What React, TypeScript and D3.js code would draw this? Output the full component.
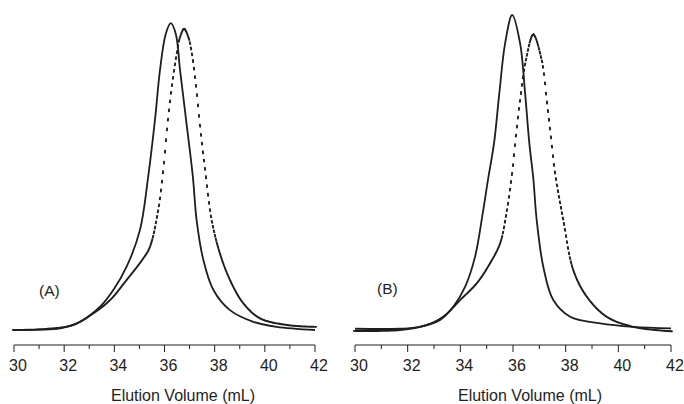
import React from "react";
import * as d3 from "d3";

// ---- Data (elution volume in mL, normalized detector signal) ----
const xTicks = [30, 32, 34, 36, 38, 40, 42];
const xMinorTicks = [31, 33, 35, 37, 39, 41];
const axisTitle = "Elution Volume (mL)";
const panelLabels = ["(A)", "(B)"];

const aSolidVol = [30, 31.0, 31.83, 32.63, 33.43, 33.96, 34.49, 35.02, 35.35, 35.62, 35.82, 36.05, 36.25, 36.45, 36.62, 36.86, 37.13, 37.28, 37.55, 37.95, 38.61, 39.54, 40.47, 42];
const aSolidSig = [0, 0.001, 0.005, 0.026, 0.074, 0.127, 0.201, 0.317, 0.487, 0.667, 0.825, 0.94, 0.974, 0.94, 0.825, 0.667, 0.487, 0.349, 0.222, 0.127, 0.063, 0.026, 0.01, 0.0];

const aDotVol = [30, 31.2, 32.36, 33.16, 33.83, 34.49, 35.16, 35.42, 35.75, 35.95, 36.11, 36.29, 36.49, 36.62, 36.78, 36.95, 37.09, 37.26, 37.42, 37.62, 37.88, 38.21, 38.61, 39.14, 39.81, 40.87, 42];
const aDotSig = [0, 0.003, 0.016, 0.053, 0.095, 0.159, 0.228, 0.264, 0.381, 0.508, 0.645, 0.772, 0.878, 0.93, 0.955, 0.93, 0.878, 0.772, 0.645, 0.508, 0.349, 0.243, 0.159, 0.085, 0.037, 0.016, 0.01];

const bSolidVol = [30, 31.71, 32.47, 33.23, 33.73, 34.18, 34.56, 34.85, 35.06, 35.28, 35.48, 35.7, 35.97, 36.27, 36.46, 36.62, 36.77, 36.9, 37.15, 37.53, 38.17, 39.31, 40.57, 42];
const bSolidSig = [0.004, 0.004, 0.01, 0.032, 0.074, 0.137, 0.233, 0.37, 0.482, 0.593, 0.751, 0.91, 1.0, 0.91, 0.751, 0.593, 0.482, 0.349, 0.201, 0.095, 0.042, 0.021, 0.01, 0.005];

const bDotVol = [30, 31.71, 32.72, 33.35, 33.99, 34.62, 35.13, 35.51, 35.73, 35.95, 36.11, 36.27, 36.49, 36.77, 37.09, 37.28, 37.44, 37.6, 37.91, 38.29, 38.8, 39.56, 40.57, 42];
const bDotSig = [-0.003, 0.0, 0.016, 0.042, 0.095, 0.148, 0.212, 0.275, 0.36, 0.487, 0.614, 0.73, 0.857, 0.937, 0.857, 0.73, 0.614, 0.497, 0.349, 0.19, 0.106, 0.042, 0.01, -0.004];

type Pt = [number, number];

const zip = (v: number[], s: number[]): Pt[] => v.map((d, i) => [d, s[i]]);
const curve = d3.curveCatmullRom.alpha(0.5);

// Flatten a d3 curve into a dense polyline (pixel coords)
function flatten(pts: Pt[], x: d3.ScaleLinear<number, number>, y: d3.ScaleLinear<number, number>): Pt[] {
  const out: Pt[] = [];
  let cx = 0, cy = 0;
  const ctx: any = {
    moveTo(a: number, b: number) { cx = a; cy = b; out.push([a, b]); },
    lineTo(a: number, b: number) { cx = a; cy = b; out.push([a, b]); },
    bezierCurveTo(x1: number, y1: number, x2: number, y2: number, x3: number, y3: number) {
      const n = 40;
      for (let i = 1; i <= n; i++) {
        const t = i / n, u = 1 - t;
        const px = u * u * u * cx + 3 * u * u * t * x1 + 3 * u * t * t * x2 + t * t * t * x3;
        const py = u * u * u * cy + 3 * u * u * t * y1 + 3 * u * t * t * y2 + t * t * t * y3;
        out.push([px, py]);
      }
      cx = x3; cy = y3;
    },
    closePath() {},
  };
  d3.line<Pt>().x(d => x(d[0])).y(d => y(d[1])).curve(curve).context(ctx)(pts);
  return out;
}

function dottedPath(pts: Pt[], x: d3.ScaleLinear<number, number>, y: d3.ScaleLinear<number, number>): string {
  const poly = flatten(pts, x, y).slice().sort((p, q) => p[0] - q[0]);
  const xs = poly.map(p => p[0]);
  const bis = d3.bisector((d: number) => d).left;
  const yAt = (px: number) => {
    const i = bis(xs, px);
    if (i <= 0) return poly[0][1];
    if (i >= poly.length) return poly[poly.length - 1][1];
    const [x0, y0] = poly[i - 1];
    const [x1, y1] = poly[i];
    const t = x1 === x0 ? 0 : (px - x0) / (x1 - x0);
    return y0 + t * (y1 - y0);
  };
  const [r0, r1] = x.range();
  const step = 1.0;
  const half = 1.8;
  let d = "";
  for (let px = r0; px <= r1; px += step) {
    const py = yAt(px);
    const a = Math.max(r0, px - 0.3), b = Math.min(r1, px + 0.3);
    const slope = (yAt(b) - yAt(a)) / (b - a || 1);
    const nrm = Math.sqrt(1 + slope * slope);
    const ux = 1 / nrm, uy = slope / nrm;
    d += `M${(px - ux * half).toFixed(2)},${(py - uy * half).toFixed(2)}L${(px + ux * half).toFixed(2)},${(py + uy * half).toFixed(2)}`;
  }
  return d;
}

const ink = "#1e1e1e";
const font = "'Liberation Sans', Arial, sans-serif";

function Panel({ x0, x1, solid, dotted, label, labelX, labelY, titleX }: any) {
  const x = d3.scaleLinear().domain([30, 42]).range([x0, x1]);
  const y = d3.scaleLinear().domain([0, 1]).range([330, 15]);
  const line = d3.line<Pt>().x(d => x(d[0])).y(d => y(d[1])).curve(curve);
  const axisY = 345;
  return (
    <g>
      <path d={line(solid) || ""} fill="none" stroke={ink} strokeWidth={1.8} />
      <path d={dottedPath(dotted, x, y)} fill="none" stroke={ink} strokeWidth={1.9} />
      <line x1={x0} x2={x1} y1={axisY} y2={axisY} stroke={ink} strokeWidth={1} />
      {xTicks.map(t => (
        <g key={t}>
          <line x1={x(t)} x2={x(t)} y1={axisY} y2={axisY + 7} stroke={ink} strokeWidth={1} />
          <text x={x(t) + 4} y={371} textAnchor="middle" fontSize={16} fontFamily={font} fill={ink}>{t}</text>
        </g>
      ))}
      {xMinorTicks.map(t => (
        <line key={t} x1={x(t)} x2={x(t)} y1={axisY} y2={axisY + 4} stroke={ink} strokeWidth={1} />
      ))}
      <text x={titleX} y={401} textAnchor="middle" fontSize={16} fontFamily={font} fill={ink}>{axisTitle}</text>
      <text x={labelX} y={labelY} fontSize={15.5} fontFamily={font} fill={ink}>{label}</text>
    </g>
  );
}

export default function App() {
  return (
    <svg width={684} height={404} style={{ position: "absolute", left: 0, top: 0, background: "#fff" }}>
      <rect width={684} height={404} fill="#fff" />
      <Panel x0={14} x1={315} solid={zip(aSolidVol, aSolidSig)} dotted={zip(aDotVol, aDotSig)} label={panelLabels[0]} labelX={39} labelY={296} titleX={183} />
      <Panel x0={355} x1={671} solid={zip(bSolidVol, bSolidSig)} dotted={zip(bDotVol, bDotSig)} label={panelLabels[1]} labelX={377} labelY={294} titleX={530} />
    </svg>
  );
}
